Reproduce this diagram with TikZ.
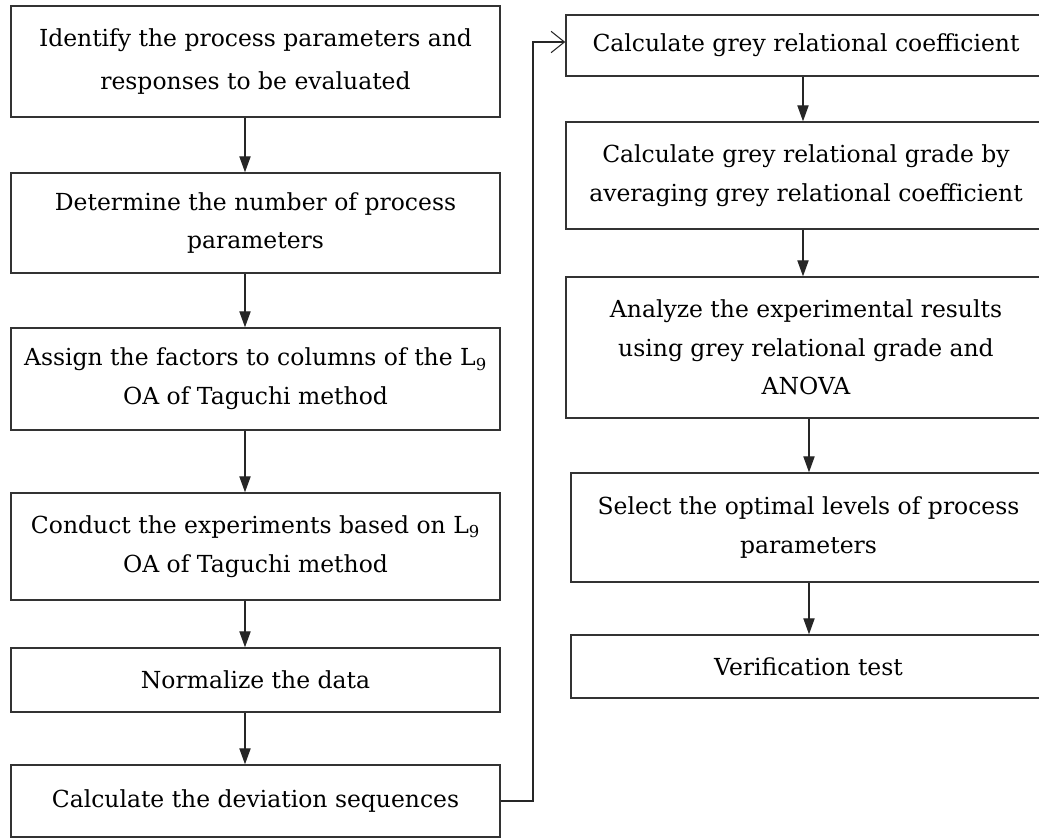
\documentclass[tikz,border=0pt]{standalone}
\usepackage{fontspec}
\setmainfont{DejaVu Serif}
\usetikzlibrary{arrows.meta}
\definecolor{edge}{HTML}{333333}
\tikzset{
  stepbox/.style={draw=edge, line width=1.1pt, inner sep=0pt, align=center,
    font=\fontsize{17.6}{29}\selectfont, text=black},
  flow/.style={draw=black!85, line width=0.8pt, -{Triangle[length=12pt,width=8.5pt]}},
  link/.style={draw=black!85, line width=0.8pt, -{Straight Barb[length=10pt,width=16pt,line width=0.8pt]}}
}
\begin{document}
\begin{tikzpicture}[x=0.75pt, y=-0.75pt]
\useasboundingbox (0,0) rectangle (1039,838);
% left column
\node[stepbox, minimum width=366.75pt, minimum height=83.25pt, font=\fontsize{17.6}{32}\selectfont] (b1) at (255.5,61.5)
  {Identify the process parameters and\\responses to be evaluated};
\node[stepbox, minimum width=366.75pt, minimum height=75pt] (b2) at (255.5,223)
  {Determine the number of process\\parameters};
\node[stepbox, minimum width=366.75pt, minimum height=76.5pt] (b3) at (255.5,379)
  {Assign the factors to columns of the L\textsubscript{9}\\OA of Taguchi method};
\node[stepbox, minimum width=366.75pt, minimum height=80.25pt] (b4) at (255.5,546.5)
  {Conduct the experiments based on L\textsubscript{9}\\OA of Taguchi method};
\node[stepbox, minimum width=366.75pt, minimum height=48pt] (b5) at (255.5,680)
  {Normalize the data};
\node[stepbox, minimum width=366.75pt, minimum height=54pt] (b6) at (255.5,801)
  {Calculate the deviation sequences};
% right column
\node[stepbox, minimum width=360pt, minimum height=45.75pt] (r1) at (806,45.5)
  {Calculate grey relational coefficient};
\node[stepbox, minimum width=360pt, minimum height=80.25pt] (r2) at (806,175.5)
  {Calculate grey relational grade by\\averaging grey relational coefficient};
\node[stepbox, minimum width=360pt, minimum height=105.75pt] (r3) at (806,347.5)
  {Analyze the experimental results\\using grey relational grade and\\ANOVA};
\node[stepbox, minimum width=356.25pt, minimum height=81.75pt] (r4) at (808.5,527.5)
  {Select the optimal levels of process\\parameters};
\node[stepbox, minimum width=356.25pt, minimum height=47.25pt] (r5) at (808.5,666.5)
  {Verification test};
% arrow guide coordinates
\coordinate (lx) at (245,0);
\coordinate (rxa) at (803,0);
\coordinate (rxb) at (809,0);
\coordinate (jx) at (533,42);
\draw[flow] (b1.south -| lx) -- (b2.north -| lx);
\draw[flow] (b2.south -| lx) -- (b3.north -| lx);
\draw[flow] (b3.south -| lx) -- (b4.north -| lx);
\draw[flow] (b4.south -| lx) -- (b5.north -| lx);
\draw[flow] (b5.south -| lx) -- (b6.north -| lx);
\draw[flow] (r1.south -| rxa) -- (r2.north -| rxa);
\draw[flow] (r2.south -| rxa) -- (r3.north -| rxa);
\draw[flow] (r3.south -| rxb) -- (r4.north -| rxb);
\draw[flow] (r4.south -| rxb) -- (r5.north -| rxb);
\draw[link] (b6.east) -| (jx) -- (jx -| r1.west);
\end{tikzpicture}
\end{document}
